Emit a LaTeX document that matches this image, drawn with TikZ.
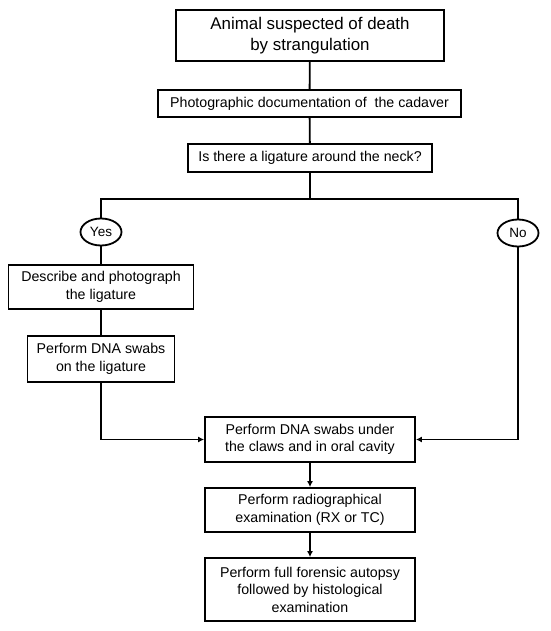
\documentclass[tikz,border=0pt]{standalone}
\usepackage{fontspec}
\setmainfont{Liberation Sans}
\usetikzlibrary{arrows.meta,shapes.geometric}
\begin{document}
\begin{tikzpicture}[x=1pt,y=-1pt,
  box/.style={draw, line width=1.8pt, rectangle, align=center, inner sep=0pt, font=\fontsize{14.2}{17.5}\selectfont},
  oval/.style={draw, line width=1.8pt, ellipse, inner sep=0pt, minimum width=41pt, minimum height=27pt, font=\fontsize{13.5}{15}\selectfont},
  ln/.style={line width=1.8pt},
  arr/.style={line width=1.8pt, -{Latex[length=6pt,width=6pt]}}]
\useasboundingbox (0,0) rectangle (550,631);
\node[box, minimum width=268pt, minimum height=51pt, font=\fontsize{16.9}{21}\selectfont] (b1) at (310,35.5) {Animal suspected of death\\by strangulation};
\node[box, minimum width=303pt, minimum height=27pt] (b2) at (309.5,103.5) {Photographic documentation of\ \ the cadaver};
\node[box, minimum width=244pt, minimum height=28pt] (b3) at (310,158) {Is there a ligature around the neck?};
\coordinate (j) at (310,199);
\node[oval] (yes) at (101,232) {Yes};
\node[oval] (no) at (518,233) {No};
\node[box, minimum width=185pt, minimum height=44pt] (b4) at (101,287) {Describe and photograph\\the ligature};
\node[box, minimum width=147pt, minimum height=46pt] (b5) at (101,359) {Perform DNA swabs\\on the ligature};
\node[box, minimum width=210pt, minimum height=45pt] (b6) at (310,439.5) {Perform DNA swabs under\\the claws and in oral cavity};
\node[box, minimum width=210pt, minimum height=44pt] (b7) at (310,510) {Perform radiographical\\examination (RX or TC)};
\node[box, minimum width=210pt, minimum height=63pt] (b8) at (310,589.5) {Perform full forensic autopsy\\followed by histological\\examination};
\draw[ln] (b1) -- (b2);
\draw[ln] (b2) -- (b3);
\draw[ln] (b3) -- (j);
\draw[ln] (yes.north) |- (j) -| (no.north);
\draw[ln] (yes) -- (b4);
\draw[ln] (b4) -- (b5);
\draw[arr] (b5.south) |- (b6.west);
\draw[arr] (no.south) |- (b6.east);
\draw[arr] (b6) -- (b7);
\draw[arr] (b7) -- (b8);
\end{tikzpicture}
\end{document}
